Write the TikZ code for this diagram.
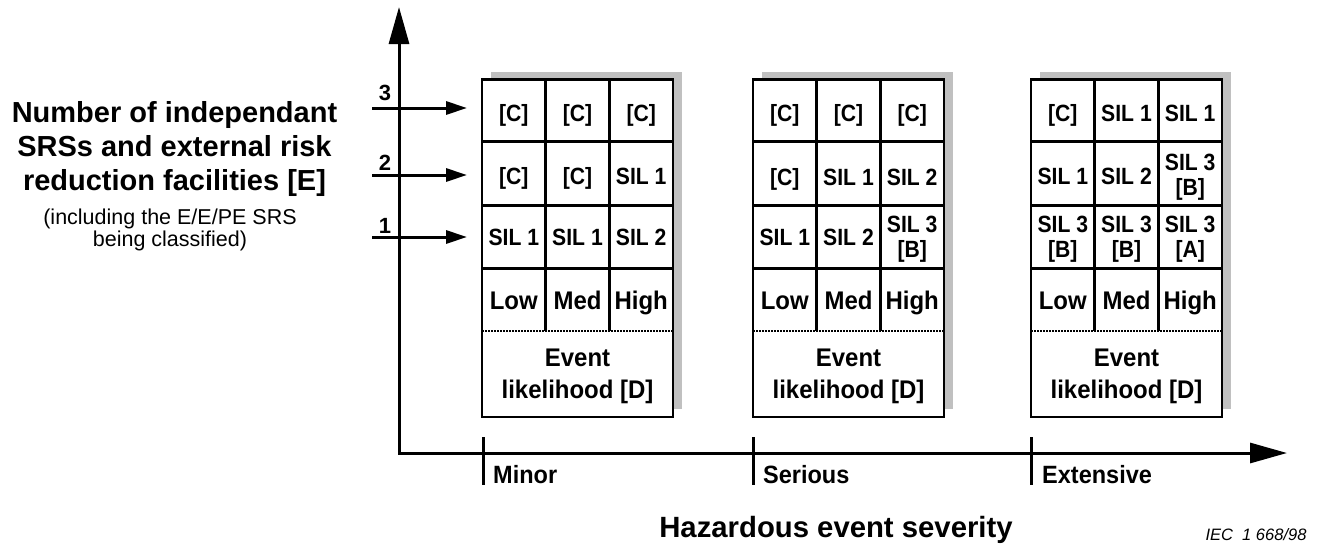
\documentclass[tikz,border=0pt]{standalone}
\usepackage{fontspec}
\setmainfont{Liberation Sans}
\newfontfamily\cellfont[FakeStretch=0.9]{Liberation Sans}
\newfontfamily\hdrfont[FakeStretch=0.94]{Liberation Sans}
\usetikzlibrary{arrows.meta}
\definecolor{shadowgray}{RGB}{192,192,192}
\begin{document}
\begin{tikzpicture}[x=1pt,y=-1pt,
  axisline/.style={line width=3pt, line join=miter},
  bigtip/.style={-{Triangle[length=37pt,width=20pt]}},
  lvlarrow/.style={line width=3pt, -{Triangle[length=21pt,width=13pt]}},
  gridline/.style={line width=2.7pt},
  dotline/.style={line width=2pt, dash pattern=on 1.6pt off 1.4pt},
  cellval/.style={font=\cellfont\fontsize{23.5}{25}\selectfont\bfseries, align=center, inner sep=0pt, anchor=base},
  cellval2/.style={font=\cellfont\fontsize{23.5}{25}\selectfont\bfseries, align=center, inner sep=0pt, anchor=north},
  hdr/.style={font=\hdrfont\fontsize{25.5}{31.5}\selectfont\bfseries, align=center, inner sep=0pt, anchor=base},
  evt/.style={font=\hdrfont\fontsize{25.5}{31.5}\selectfont\bfseries, align=center, inner sep=0pt, anchor=north},
  lvl/.style={font=\fontsize{22}{26}\selectfont\bfseries, inner sep=0pt, anchor=base},
  sev/.style={font=\hdrfont\fontsize{25}{28}\selectfont\bfseries, inner sep=0pt, anchor=base west},
  title/.style={font=\fontsize{29}{34}\selectfont\bfseries, align=center, inner sep=0pt, anchor=north},
  sub/.style={font=\fontsize{21.5}{22}\selectfont, align=center, inner sep=0pt, anchor=north},
  note/.style={font=\fontsize{16.5}{19}\selectfont\itshape, inner sep=0pt, anchor=base}
]
\useasboundingbox (0,0) rectangle (1321,544);

% grids
\foreach \gx in {482,753,1031}{
  \fill[shadowgray] (\gx+8.5,71.5) rectangle (\gx+199.5,409);
  \fill[white] (\gx,79.5) rectangle (\gx+191,417);
  \draw[gridline] (\gx,141.5) -- (\gx+191,141.5);
  \draw[gridline] (\gx,205.5) -- (\gx+191,205.5);
  \draw[gridline] (\gx,268.5) -- (\gx+191,268.5);
  \draw[gridline] (\gx+63.7,79.5) -- (\gx+63.7,330.5);
  \draw[gridline] (\gx+127.3,79.5) -- (\gx+127.3,330.5);
  \draw[dotline] (\gx,330.5) -- (\gx+191,330.5);
  \draw[gridline] (\gx,79.5) rectangle (\gx+191,417);
}

% cells: Minor
\node[cellval] (a11) at (513.8,121) {[C]};
\node[cellval] (a12) at (577.5,121) {[C]};
\node[cellval] (a13) at (641.2,121) {[C]};
\node[cellval] (a21) at (513.8,184) {[C]};
\node[cellval] (a22) at (577.5,184) {[C]};
\node[cellval] (a23) at (641.2,184) {SIL 1};
\node[cellval] (a31) at (513.8,245) {SIL 1};
\node[cellval] (a32) at (577.5,245) {SIL 1};
\node[cellval] (a33) at (641.2,245) {SIL 2};
\node[hdr] (alow) at (513.8,309) {Low};
\node[hdr] (amed) at (577.5,309) {Med};
\node[hdr] (ahigh) at (641.2,309) {High};
\node[evt] (aev) at (577.5,349) {Event\\likelihood [D]};

% cells: Serious
\node[cellval] (b11) at (784.8,121) {[C]};
\node[cellval] (b12) at (848.5,121) {[C]};
\node[cellval] (b13) at (912.2,121) {[C]};
\node[cellval] (b21) at (784.8,185) {[C]};
\node[cellval] (b22) at (848.5,185) {SIL 1};
\node[cellval] (b23) at (912.2,185) {SIL 2};
\node[cellval] (b31) at (784.8,245) {SIL 1};
\node[cellval] (b32) at (848.5,245) {SIL 2};
\node[cellval2] (b33) at (912.2,216) {SIL 3\\{[B]}};
\node[hdr] (blow) at (784.8,309) {Low};
\node[hdr] (bmed) at (848.5,309) {Med};
\node[hdr] (bhigh) at (912.2,309) {High};
\node[evt] (bev) at (848.5,349) {Event\\likelihood [D]};

% cells: Extensive
\node[cellval] (c11) at (1062.8,121) {[C]};
\node[cellval] (c12) at (1126.5,121) {SIL 1};
\node[cellval] (c13) at (1190.2,121) {SIL 1};
\node[cellval] (c21) at (1062.8,184) {SIL 1};
\node[cellval] (c22) at (1126.5,184) {SIL 2};
\node[cellval2] (c23) at (1190.2,153.5) {SIL 3\\{[B]}};
\node[cellval2] (c31) at (1062.8,216) {SIL 3\\{[B]}};
\node[cellval2] (c32) at (1126.5,216) {SIL 3\\{[B]}};
\node[cellval2] (c33) at (1190.2,216) {SIL 3\\{[A]}};
\node[hdr] (clow) at (1062.8,309) {Low};
\node[hdr] (cmed) at (1126.5,309) {Med};
\node[hdr] (chigh) at (1190.2,309) {High};
\node[evt] (cev) at (1126.5,349) {Event\\likelihood [D]};

% axes
\coordinate (O) at (399,453);
\coordinate (ytip) at (399,7);
\coordinate (xtip) at (1287,453);
\draw[axisline, bigtip] (O) -- (ytip);
\draw[axisline, bigtip] (O) -- (xtip);
\fill (397.5,451.5) rectangle (400.5,454.5);

% ticks
\coordinate (t1a) at (483,437); \coordinate (t1b) at (483,485);
\coordinate (t2a) at (753,437); \coordinate (t2b) at (753,485);
\coordinate (t3a) at (1031,437); \coordinate (t3b) at (1031,485);
\draw[line width=3pt] (t1a) -- (t1b);
\draw[line width=3pt] (t2a) -- (t2b);
\draw[line width=3pt] (t3a) -- (t3b);
\node[sev] (minor) at (493,483) {Minor};
\node[sev] (serious) at (763,483) {Serious};
\node[sev] (extensive) at (1042,483) {Extensive};

% level arrows
\coordinate (l3s) at (372,108); \coordinate (l3e) at (467,108);
\coordinate (l2s) at (372,175); \coordinate (l2e) at (467,175);
\coordinate (l1s) at (372,237); \coordinate (l1e) at (467,237);
\draw[lvlarrow] (l3s) -- (l3e);
\draw[lvlarrow] (l2s) -- (l2e);
\draw[lvlarrow] (l1s) -- (l1e);
\node[lvl] (n3) at (385,100) {3};
\node[lvl] (n2) at (385,170) {2};
\node[lvl] (n1) at (385,233) {1};

% texts
\node[title] (ytitle) at (174.5,101) {Number of independant\\SRSs and external risk\\reduction facilities [E]};
\node[sub] (ysub) at (170,208.5) {(including the E/E/PE SRS\\being classified)};
\node[font=\fontsize{29.3}{34}\selectfont\bfseries, inner sep=0pt, anchor=base] (xtitle) at (836,537) {Hazardous event severity};
\node[note] (iec) at (1256,540) {IEC\ \ 1 668/98};
\end{tikzpicture}
\end{document}
